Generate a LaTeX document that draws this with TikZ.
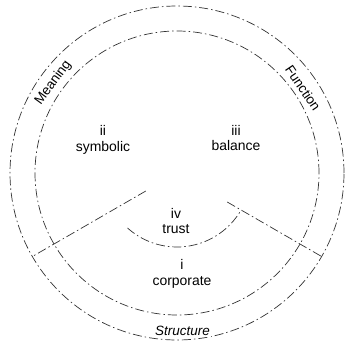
\documentclass[tikz,border=0pt]{standalone}
\usepackage{fontspec}
\setmainfont{Liberation Sans}

\begin{document}
\begin{tikzpicture}[x=1bp,y=1bp,
    ring/.style={line width=0.7, black!80, dash pattern=on 9bp off 3bp on 1.5bp off 3bp},
    sector/.style={align=center,font=\fontsize{14}{16}\selectfont},
    rimlabel/.style={fill=white,inner sep=1bp,font=\fontsize{13.5}{13.5}\selectfont}]
               \useasboundingbox (0,0) rectangle (347,342);
               \coordinate (c) at (177,169);
               \begin{scope}[shift={(c)}]
               % outer and inner ring
               \draw [ring] (0,0) circle (167);
               \draw [ring] (0,0) circle (142);
               % left spoke
               \coordinate (spokeLin) at (210:36);
               \coordinate (spokeLout) at (210:167);
               \draw [ring] (spokeLin) -- (spokeLout);
               % right spoke
               \coordinate (spokeRin) at (330:58);
               \coordinate (spokeRout) at (330:168);
               \draw [ring] (spokeRin) -- (spokeRout);
               % arc round trust
               \draw [ring] (228:74) arc (228:330:74);
               % sectors
               \node [sector] (symbolic) at (-74,33) {ii\\symbolic};
               \node [sector] (balance) at (59,35) {iii\\balance};
               \node [sector] (trust) at (-1,-48) {iv\\trust};
               \node [sector] (corporate) at (5,-101) {i\\corporate};
               % labels on the rim
               \node [rimlabel,rotate=54] (meaning) at (144:153) {Meaning};
               \node [rimlabel,rotate=-56] (function) at (34:152) {Function};
               \node [rimlabel,font=\fontsize{13.5}{13.5}\selectfont\itshape] (structure) at (272:158) {Structure};
               \end{scope}
            \end{tikzpicture}
\end{document}
